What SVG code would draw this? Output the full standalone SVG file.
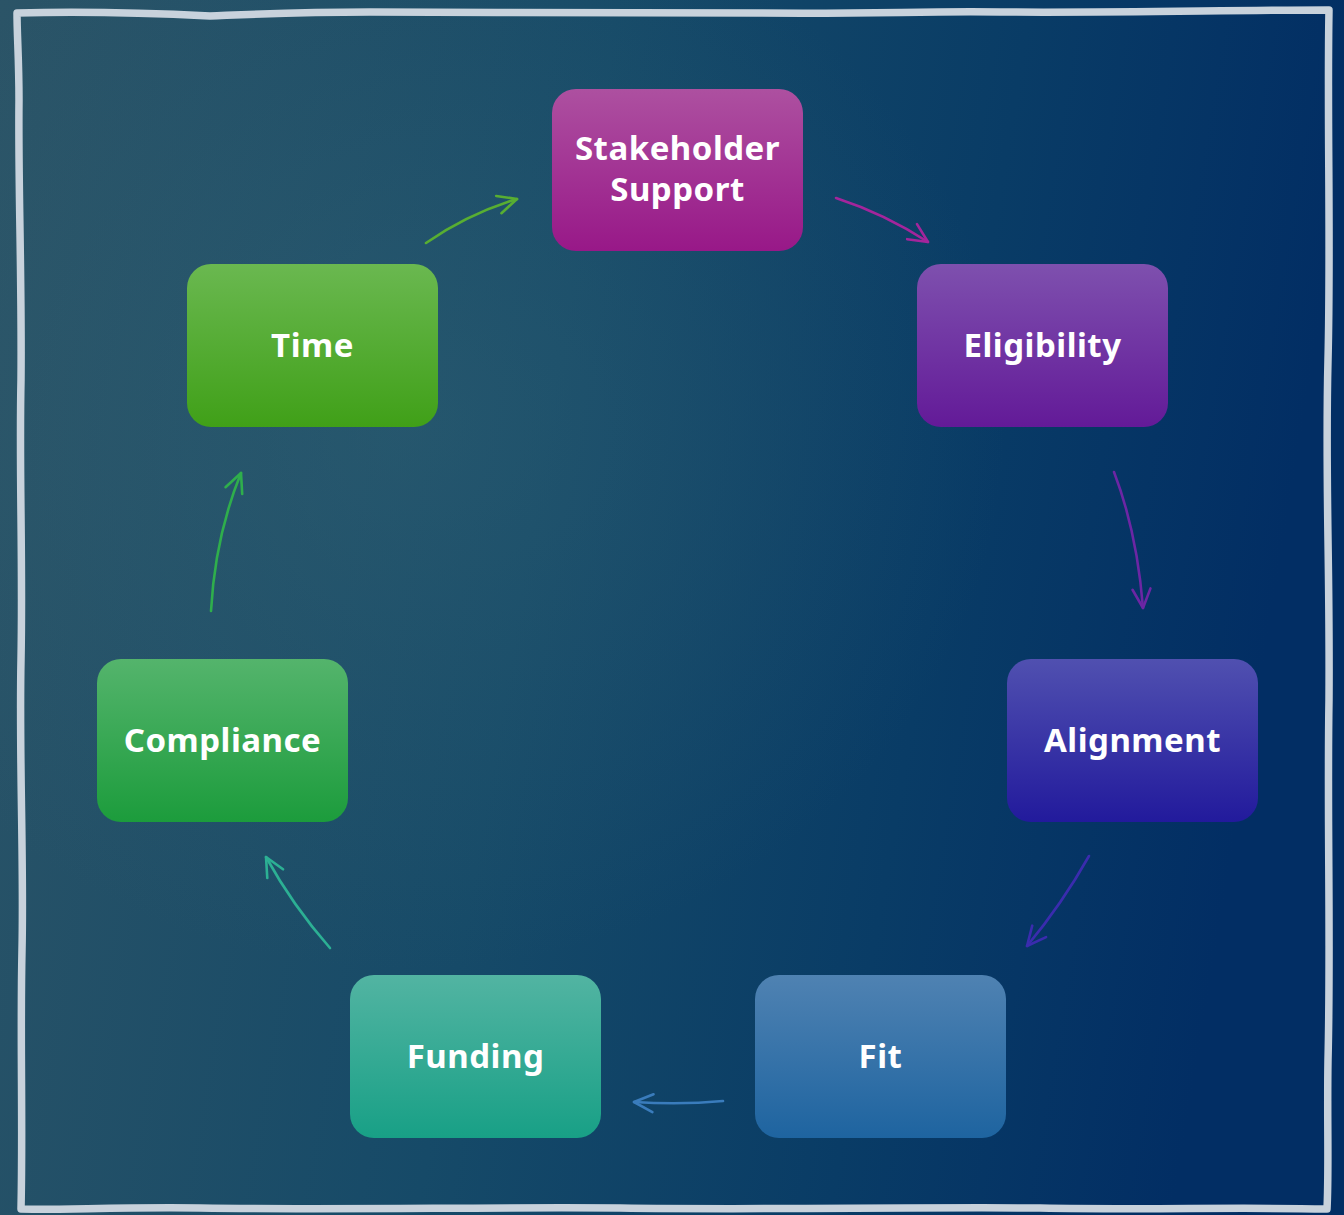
<svg xmlns="http://www.w3.org/2000/svg" width="1344" height="1215" viewBox="0 0 1344 1215">
  <defs>
    <linearGradient id="bg" x1="0" y1="0" x2="1" y2="0.15">
      <stop offset="0" stop-color="#2b5467"/>
      <stop offset="0.45" stop-color="#164a68"/>
      <stop offset="0.75" stop-color="#093c66"/>
      <stop offset="1" stop-color="#022e64"/>
    </linearGradient>
    <radialGradient id="haze" cx="0.3" cy="0.35" r="0.45">
      <stop offset="0" stop-color="#3a6a78" stop-opacity="0.35"/>
      <stop offset="1" stop-color="#3a6a78" stop-opacity="0"/>
    </radialGradient>
    <linearGradient id="gStake" x1="0" y1="0" x2="0" y2="1">
      <stop offset="0" stop-color="#ad50a0"/>
      <stop offset="1" stop-color="#981888"/>
    </linearGradient>
    <linearGradient id="gElig" x1="0" y1="0" x2="0" y2="1">
      <stop offset="0" stop-color="#7e50ae"/>
      <stop offset="1" stop-color="#631a98"/>
    </linearGradient>
    <linearGradient id="gAlign" x1="0" y1="0" x2="0" y2="1">
      <stop offset="0" stop-color="#5050b0"/>
      <stop offset="1" stop-color="#221a9c"/>
    </linearGradient>
    <linearGradient id="gFit" x1="0" y1="0" x2="0" y2="1">
      <stop offset="0" stop-color="#4f82b2"/>
      <stop offset="1" stop-color="#1e64a0"/>
    </linearGradient>
    <linearGradient id="gFund" x1="0" y1="0" x2="0" y2="1">
      <stop offset="0" stop-color="#52b4a2"/>
      <stop offset="1" stop-color="#18a086"/>
    </linearGradient>
    <linearGradient id="gComp" x1="0" y1="0" x2="0" y2="1">
      <stop offset="0" stop-color="#54b46c"/>
      <stop offset="1" stop-color="#1c9c3c"/>
    </linearGradient>
    <linearGradient id="gTime" x1="0" y1="0" x2="0" y2="1">
      <stop offset="0" stop-color="#6ab850"/>
      <stop offset="1" stop-color="#40a018"/>
    </linearGradient>
    <marker id="mTime" markerUnits="userSpaceOnUse" viewBox="-22 -12 26 24" markerWidth="26" markerHeight="24" refX="0" refY="0" orient="auto">
      <path d="M-19,-9 L0,0 L-19,9" fill="none" stroke="#58ae32" stroke-width="2.6" stroke-linecap="round" stroke-linejoin="round"/>
    </marker>
    <marker id="mStake" markerUnits="userSpaceOnUse" viewBox="-22 -12 26 24" markerWidth="26" markerHeight="24" refX="0" refY="0" orient="auto">
      <path d="M-19,-9 L0,0 L-19,9" fill="none" stroke="#a4259c" stroke-width="2.6" stroke-linecap="round" stroke-linejoin="round"/>
    </marker>
    <marker id="mElig" markerUnits="userSpaceOnUse" viewBox="-22 -12 26 24" markerWidth="26" markerHeight="24" refX="0" refY="0" orient="auto">
      <path d="M-19,-9 L0,0 L-19,9" fill="none" stroke="#6c26a4" stroke-width="2.6" stroke-linecap="round" stroke-linejoin="round"/>
    </marker>
    <marker id="mAlign" markerUnits="userSpaceOnUse" viewBox="-22 -12 26 24" markerWidth="26" markerHeight="24" refX="0" refY="0" orient="auto">
      <path d="M-19,-9 L0,0 L-19,9" fill="none" stroke="#3a2cae" stroke-width="2.6" stroke-linecap="round" stroke-linejoin="round"/>
    </marker>
    <marker id="mFit" markerUnits="userSpaceOnUse" viewBox="-22 -12 26 24" markerWidth="26" markerHeight="24" refX="0" refY="0" orient="auto">
      <path d="M-19,-9 L0,0 L-19,9" fill="none" stroke="#3a7cbc" stroke-width="2.6" stroke-linecap="round" stroke-linejoin="round"/>
    </marker>
    <marker id="mFund" markerUnits="userSpaceOnUse" viewBox="-22 -12 26 24" markerWidth="26" markerHeight="24" refX="0" refY="0" orient="auto">
      <path d="M-19,-9 L0,0 L-19,9" fill="none" stroke="#2cb094" stroke-width="2.6" stroke-linecap="round" stroke-linejoin="round"/>
    </marker>
    <marker id="mComp" markerUnits="userSpaceOnUse" viewBox="-22 -12 26 24" markerWidth="26" markerHeight="24" refX="0" refY="0" orient="auto">
      <path d="M-19,-9 L0,0 L-19,9" fill="none" stroke="#2fae4c" stroke-width="2.6" stroke-linecap="round" stroke-linejoin="round"/>
    </marker>
  </defs>
  <style>
    .node text { font-family: "Noto Sans", "DejaVu Sans", sans-serif; font-weight: 700; font-size: 33px; letter-spacing: 0.5px; fill: #ffffff; text-anchor: middle; }
    .edge { fill: none; stroke-width: 2.6; stroke-linecap: round; }
    .frame { fill: none; stroke: #c8d2dc; stroke-width: 7.5; stroke-linejoin: round; }
  </style>

  <!-- backdrop -->
  <rect x="0" y="0" width="1344" height="1215" fill="url(#bg)"/>
  <rect x="0" y="0" width="1344" height="1215" fill="url(#haze)"/>

  <!-- hand-drawn border -->
  <path class="frame" d="M17,13 C90,11 150,13 210,16 C260,14 300,12 370,12 C500,13 620,12 760,13 C880,14 920,11 1000,12 C1120,13 1230,10 1329,10 C1327,120 1331,240 1328,360 C1325,480 1330,560 1329,700 C1327,820 1331,940 1328,1060 C1327,1120 1329,1170 1327,1209 C1230,1207 1150,1210 1040,1208 C900,1207 760,1210 620,1208 C480,1207 340,1210 200,1208 C120,1207 60,1210 21,1209 C23,1120 20,1040 22,950 C24,860 19,760 21,660 C23,560 19,470 21,380 C22,280 18,180 19,100 C19,60 17,35 17,13 Z"/>

  <!-- connectors -->
  <g id="connectors">
    <path class="edge" stroke="#58ae32" d="M426,243 Q468,214 517,199" marker-end="url(#mTime)"/>
    <path class="edge" stroke="#a4259c" d="M836,198 Q885,214 928,242" marker-end="url(#mStake)"/>
    <path class="edge" stroke="#6c26a4" d="M1114,472 Q1137,532 1143,608" marker-end="url(#mElig)"/>
    <path class="edge" stroke="#3a2cae" d="M1089,856 Q1062,904 1027,946" marker-end="url(#mAlign)"/>
    <path class="edge" stroke="#3a7cbc" d="M723,1101 Q681,1105 634,1102" marker-end="url(#mFit)"/>
    <path class="edge" stroke="#2cb094" d="M330,948 Q293,906 266,857" marker-end="url(#mFund)"/>
    <path class="edge" stroke="#2fae4c" d="M211,611 Q215,537 241,473" marker-end="url(#mComp)"/>
  </g>

  <!-- nodes -->
  <g id="node-stakeholder" class="node">
    <rect x="552" y="89" width="251" height="162" rx="24" fill="url(#gStake)"/>
    <text x="677.5" y="160">Stakeholder<tspan x="677.5" dy="41">Support</tspan></text>
  </g>
  <g id="node-eligibility" class="node">
    <rect x="917" y="264" width="251" height="163" rx="24" fill="url(#gElig)"/>
    <text x="1042.5" y="357">Eligibility</text>
  </g>
  <g id="node-alignment" class="node">
    <rect x="1007" y="659" width="251" height="163" rx="24" fill="url(#gAlign)"/>
    <text x="1132.5" y="752">Alignment</text>
  </g>
  <g id="node-fit" class="node">
    <rect x="755" y="975" width="251" height="163" rx="24" fill="url(#gFit)"/>
    <text x="880.5" y="1068">Fit</text>
  </g>
  <g id="node-funding" class="node">
    <rect x="350" y="975" width="251" height="163" rx="24" fill="url(#gFund)"/>
    <text x="475.5" y="1068">Funding</text>
  </g>
  <g id="node-compliance" class="node">
    <rect x="97" y="659" width="251" height="163" rx="24" fill="url(#gComp)"/>
    <text x="222.5" y="752">Compliance</text>
  </g>
  <g id="node-time" class="node">
    <rect x="187" y="264" width="251" height="163" rx="24" fill="url(#gTime)"/>
    <text x="312.5" y="357">Time</text>
  </g>
</svg>
